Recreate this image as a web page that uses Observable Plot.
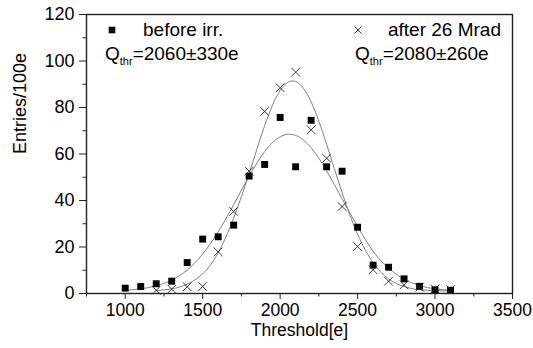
<!DOCTYPE html>
<html>
<head>
<meta charset="utf-8">
<script src="https://cdn.jsdelivr.net/npm/d3@7"></script>
<script src="https://cdn.jsdelivr.net/npm/@observablehq/plot@0.6"></script>
<style>
  html, body { margin: 0; padding: 0; background: #fff; }
  svg { font-family: "Liberation Sans", Arial, sans-serif; }
</style>
</head>
<body>
<div id="chart"></div>
<script>
// ---- data ----
const beforeThreshold = [1000,1100,1200,1300,1400,1500,1600,1700,1800,1900,2000,2100,2200,2300,2400,2500,2600,2700,2800,2900,3000,3100];
const beforeEntries   = [2.3,3.0,4.2,5.3,13.3,23.4,24.4,29.4,50.5,55.5,75.7,54.5,74.5,54.5,52.6,28.5,12.2,11.3,6.3,3.1,1.6,1.4];

const afterThreshold = [1200,1300,1400,1500,1600,1700,1800,1900,2000,2100,2200,2300,2400,2500,2600,2700,2800,2900,3000,3100];
const afterEntries   = [1.4,1.9,2.9,3.0,17.9,35.3,52.6,78.3,88.5,95.2,70.4,58.2,37.4,20.2,10.2,5.3,3.7,2.7,2.0,1.7];

// fitted gaussian curves
const fitBeforeX = [1000,1100,1200,1300,1400,1500,1600,1700,1800,1900,2000,2100,2200,2300,2400,2500,2600,2700,2800,2900,3000,3100];
const fitBeforeY = [1.4,2.0,3.3,5.8,10.1,17.0,26.5,38.2,50.5,61.0,67.4,68.0,62.7,52.8,40.7,28.8,18.2,10.9,6.2,3.4,2.0,1.4];
const fitAfterX  = [1200,1300,1400,1500,1600,1700,1800,1900,2000,2100,2200,2300,2400,2500,2600,2700,2800,2900,3000,3100];
const fitAfterY  = [1.3,2.0,4.0,8.5,17.5,32.5,51.6,72.2,87.3,91.2,82.4,64.2,43.4,25.5,13.3,6.3,3.0,1.6,1.2,1.05];

const xTicks = [1000,1500,2000,2500,3000,3500];
const xMinorTicks = [750,1250,1750,2250,2750,3250];
const yTicks = [0,20,40,60,80,100,120];
const yMinorTicks = [10,30,50,70,90,110];

const xLabel = "Threshold[e]";
const yLabel = "Entries/100e";
const seriesNames = ["before irr.", "after 26 Mrad"];
const qValues = ["=2060±330e", "=2080±260e"];

const before = beforeThreshold.map((t, i) => ({t, n: beforeEntries[i]}));
const after = afterThreshold.map((t, i) => ({t, n: afterEntries[i]}));
const fitBefore = fitBeforeX.map((t, i) => ({t, n: fitBeforeY[i]}));
const fitAfter = fitAfterX.map((t, i) => ({t, n: fitAfterY[i]}));

const FS = 18;
const TFS = 17.5;
const chart = Plot.plot({
  width: 533,
  height: 348,
  marginLeft: 86,
  marginRight: 21,
  marginTop: 14,
  marginBottom: 55,
  x: {domain: [750, 3500]},
  y: {domain: [0, 120]},
  style: {fontFamily: "Liberation Sans, Arial, sans-serif", fontSize: FS + "px", color: "#000", background: "#fff"},
  marks: [
    Plot.line(fitBefore, {x: "t", y: "n", curve: "natural", stroke: "#808080", strokeWidth: 1}),
    Plot.line(fitAfter, {x: "t", y: "n", curve: "natural", stroke: "#808080", strokeWidth: 1}),
    Plot.dot(before, {x: "t", y: "n", symbol: "square", r: 3.9, fill: "#000", stroke: "none"}),
    Plot.dot(after, {x: "t", y: "n", symbol: "times", r: 4, stroke: "#222", strokeWidth: 0.9}),
    Plot.axisX({ticks: xTicks, tickSize: 6, tickPadding: 4, fontSize: TFS, tickFormat: d => String(d), label: null, stroke: "#222"}),
    Plot.axisX({ticks: xMinorTicks, tickSize: 3.5, text: null, tickFormat: () => "", label: null, stroke: "#222"}),
    Plot.axisY({ticks: yTicks, tickSize: 7, tickPadding: 5, fontSize: FS, tickFormat: d => String(d), label: null, stroke: "#222"}),
    Plot.axisY({ticks: yMinorTicks, tickSize: 3.5, text: null, tickFormat: () => "", label: null, stroke: "#222"}),
    Plot.frame({stroke: "#222", strokeWidth: 1.4}),
    Plot.text([xLabel], {frameAnchor: "bottom", dy: 42, fontSize: 17.5, fill: "#000"}),
    Plot.text([yLabel], {frameAnchor: "left", dx: -66, rotate: -90, fontSize: FS, fill: "#000"})
  ]
});
document.getElementById("chart").appendChild(chart);

// ---- legend / fit annotations ----
const svg = d3.select(chart);
const g = svg.append("g")
  .attr("font-family", "Liberation Sans, Arial, sans-serif")
  .attr("text-anchor", "start")
  .attr("fill", "#000");
const LF = 19;
g.append("path").attr("d", d3.symbol(d3.symbolSquare, 44)()).attr("transform", "translate(112,30)").attr("fill", "#000");
g.append("path").attr("d", d3.symbol(d3.symbolTimes, 36)()).attr("transform", "translate(358,30)").attr("fill", "none").attr("stroke", "#222").attr("stroke-width", 0.9);
g.append("text").attr("x", 143).attr("y", 36).attr("font-size", LF).text(seriesNames[0]);
g.append("text").attr("x", 388).attr("y", 36).attr("font-size", LF).text(seriesNames[1]);
[[105, qValues[0]], [355, qValues[1]]].forEach(([x, v]) => {
  const t = g.append("text").attr("x", x).attr("y", 60).attr("font-size", LF);
  t.append("tspan").text("Q");
  t.append("tspan").attr("font-size", 11).attr("dy", 5).text("thr");
  t.append("tspan").attr("dy", -5).text(v);
});
</script>
</body>
</html>
